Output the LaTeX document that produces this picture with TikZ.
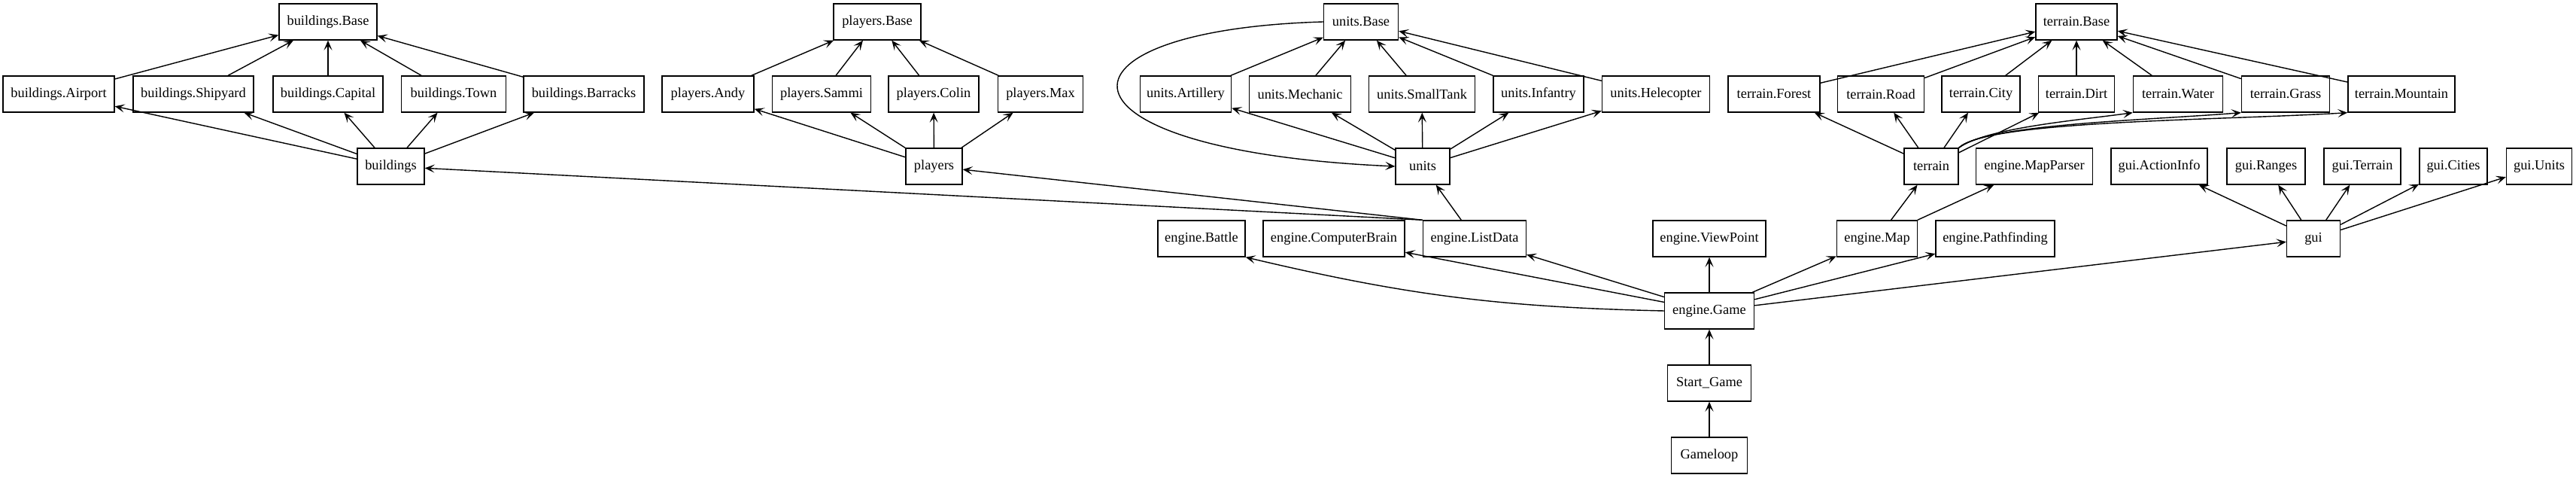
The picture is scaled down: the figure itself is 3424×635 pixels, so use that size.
\documentclass[tikz,border=0pt]{standalone}
\usepackage{fontspec}
\setmainfont{Liberation Serif}
\usetikzlibrary{arrows.meta}
\begin{document}
\begin{tikzpicture}[x=0.5pt,y=-0.5pt,
  box/.style={draw,line width=0.7pt,rectangle,minimum height=24pt,inner sep=0pt,font=\fontsize{9.2}{11}\selectfont},
  conn/.style={line width=0.7pt,-{Stealth[length=6.5pt,width=5.5pt,inset=3pt]}}]
\useasboundingbox (0,0) rectangle (3424,635);
% buildings
\node[box,minimum width=65pt] (bB) at (436,29) {buildings.Base};
\node[box,minimum width=74pt] (bA) at (78,125) {buildings.Airport};
\node[box,minimum width=80pt] (bS) at (257,125) {buildings.Shipyard};
\node[box,minimum width=73pt] (bC) at (436,125) {buildings.Capital};
\node[box,minimum width=69.5pt] (bT) at (603,125) {buildings.Town};
\node[box,minimum width=80pt] (bR) at (776,125) {buildings.Barracks};
\node[box,minimum width=44.5pt] (bld) at (519.5,221) {buildings};
% players
\node[box,minimum width=58pt] (pB) at (1166,29) {players.Base};
\node[box,minimum width=61pt] (pA) at (941,125) {players.Andy};
\node[box,minimum width=65.5pt] (pS) at (1092,125) {players.Sammi};
\node[box,minimum width=60pt] (pC) at (1241,125) {players.Colin};
\node[box,minimum width=56.5pt] (pM) at (1383,125) {players.Max};
\node[box,minimum width=37.5pt] (ply) at (1241.5,221) {players};
% units
\node[box,minimum width=49.5pt] (uB) at (1809,29) {units.Base};
\node[box,minimum width=60.5pt] (uA) at (1576,125) {units.Artillery};
\node[box,minimum width=67.5pt] (uM) at (1728,125) {units.Mechanic};
\node[box,minimum width=70.5pt] (uS) at (1890,125) {units.SmallTank};
\node[box,minimum width=60pt] (uI) at (2045,125) {units.Infantry};
\node[box,minimum width=71.5pt] (uH) at (2201,125) {units.Helecopter};
\node[box,minimum width=36pt] (unt) at (1891,221) {units};
% terrain
\node[box,minimum width=54pt] (tB) at (2760,29) {terrain.Base};
\node[box,minimum width=61pt] (tF) at (2358,125) {terrain.Forest};
\node[box,minimum width=57.5pt] (tR) at (2500,125) {terrain.Road};
\node[box,minimum width=52pt] (tC) at (2633,125) {terrain.City};
\node[box,minimum width=50.5pt] (tD) at (2760,125) {terrain.Dirt};
\node[box,minimum width=59.5pt] (tW) at (2895,125) {terrain.Water};
\node[box,minimum width=58.5pt] (tG) at (3038,125) {terrain.Grass};
\node[box,minimum width=71pt] (tM) at (3192,125) {terrain.Mountain};
\node[box,minimum width=36pt] (ter) at (2567,221) {terrain};
\node[box,minimum width=77.5pt] (mp) at (2704,221) {engine.MapParser};
% gui
\node[box,minimum width=64pt] (gA) at (2870,221) {gui.ActionInfo};
\node[box,minimum width=52pt] (gR) at (3012,221) {gui.Ranges};
\node[box,minimum width=51pt] (gT) at (3140,221) {gui.Terrain};
\node[box,minimum width=45pt] (gC) at (3261,221) {gui.Cities};
\node[box,minimum width=43.5pt] (gU) at (3375,221) {gui.Units};
\node[box,minimum width=35.5pt] (gui) at (3075,317) {gui};
% engine
\node[box,minimum width=58pt] (bat) at (1597,317) {engine.Battle};
\node[box,minimum width=94pt] (cb) at (1773,317) {engine.ComputerBrain};
\node[box,minimum width=68.5pt] (lst) at (1960,317) {engine.ListData};
\node[box,minimum width=75pt] (vp) at (2272,317) {engine.ViewPoint};
\node[box,minimum width=53.5pt] (map) at (2495,317) {engine.Map};
\node[box,minimum width=79pt] (pf) at (2652,317) {engine.Pathfinding};
\node[box,minimum width=59.5pt] (game) at (2272,413) {engine.Game};
\node[box,minimum width=55.5pt] (sg) at (2272,509) {Start\_Game};
\node[box,minimum width=50.5pt] (gl) at (2272,605) {Gameloop};
% buildings edges
\foreach \c in {bA,bS,bC,bT,bR} {\draw[conn] (\c) -- (bB); \draw[conn] (bld) -- (\c);}
\foreach \c in {pA,pS,pC,pM} {\draw[conn] (\c) -- (pB); \draw[conn] (ply) -- (\c);}
\foreach \c in {uA,uM,uS,uI,uH} {\draw[conn] (\c) -- (uB); \draw[conn] (unt) -- (\c);}
\foreach \c in {tF,tR,tC,tD,tW,tG,tM} {\draw[conn] (\c) -- (tB);}
\foreach \c in {tF,tR,tC,tD} {\draw[conn] (ter) -- (\c);}
\draw[conn] (ter.north east) .. controls (2640,170) and (2760,160) .. (tW.south west);
\draw[conn] (ter.north east) .. controls (2640,165) and (2850,160) .. (tG.south west);
\draw[conn] (ter.north east) .. controls (2640,160) and (2950,160) .. (tM.south west);
\draw[conn] (uB.west) .. controls (1380,40) and (1380,200) .. (unt.west);
\foreach \c in {gA,gR,gT,gC,gU} {\draw[conn] (gui) -- (\c);}
\draw[conn] (lst.north west) -- (bld);
\draw[conn] (lst.north west) -- (ply);
\draw[conn] (lst) -- (unt);
\draw[conn] (map) -- (ter);
\draw[conn] (map) -- (mp);
\draw[conn] (game.west) to[bend left=6] (bat.south east);
\draw[conn] (game) -- (cb);
\draw[conn] (game) -- (lst);
\draw[conn] (game) -- (vp);
\draw[conn] (game) -- (map);
\draw[conn] (game) -- (pf);
\draw[conn] (game) -- (gui);
\draw[conn] (sg) -- (game);
\draw[conn] (gl) -- (sg);
\end{tikzpicture}
\end{document}
